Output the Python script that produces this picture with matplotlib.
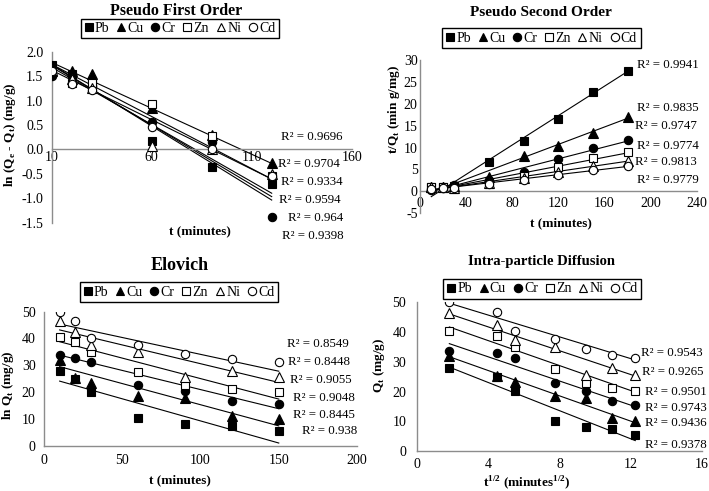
import matplotlib
matplotlib.use("Agg")
import matplotlib.pyplot as plt
from matplotlib.lines import Line2D
import numpy as np

plt.rcParams['font.family'] = ['Liberation Serif', 'DejaVu Serif']
plt.rcParams['mathtext.fontset'] = 'custom'
plt.rcParams['mathtext.rm'] = 'Liberation Serif'
plt.rcParams['mathtext.bf'] = 'Liberation Serif:bold'
plt.rcParams['axes.unicode_minus'] = False

W, H = 709, 491

metals = ["Pb", "Cu", "Cr", "Zn", "Ni", "Cd"]
markers = ["s", "^", "o", "s", "^", "o"]
filled = [True, True, True, False, False, False]

# ---- Pseudo first order ----
pfo_t = [10, 20, 30, 60, 90, 120]
pfo_Pb = [1.72, 1.55, 1.35, 0.17, -0.37, -0.71]
pfo_Cu = [1.60, 1.60, 1.55, 0.85, 0.30, -0.28]
pfo_Cr = [1.50, 1.50, 1.30, 0.55, 0.15, -1.38]
pfo_Zn = [1.60, 1.35, 1.35, 0.93, 0.27, -0.55]
pfo_Ni = [1.62, 1.45, 1.25, 0.07, 0.00, -0.50]
pfo_Cd = [1.60, 1.33, 1.22, 0.45, 0.00, -0.55]
pfo_fit_t = [10, 120]
pfo_fit_start = [1.72, 1.78, 1.74, 1.74, 1.68, 1.62]
pfo_fit_end = [-0.97, -0.29, -1.04, -0.61, -0.90, -0.61]
pfo_r2 = ["0.9696", "0.9704", "0.9334", "0.9594", "0.964", "0.9398"]

# ---- Pseudo second order ----
pso_t = [10, 20, 30, 60, 90, 120, 150, 180]
pso_Pb = [1.0, 1.0, 1.3, 6.7, 11.4, 16.6, 22.6, 27.4]
pso_Cu = [0.9, 0.9, 1.2, 3.2, 8.1, 10.3, 13.3, 17.0]
pso_Cr = [0.3, 0.8, 1.4, 2.6, 4.5, 7.3, 9.8, 11.7]
pso_Zn = [0.9, 0.9, 0.6, 1.6, 3.5, 5.6, 7.7, 9.1]
pso_Ni = [0.9, 0.9, 0.8, 1.9, 3.0, 4.4, 5.9, 7.0]
pso_Cd = [0.5, 0.8, 0.7, 1.6, 2.6, 3.8, 4.9, 5.8]
pso_fit_t = [10, 180]
pso_fit_start = [-1.2, -0.2, 0.0, 0.2, 0.3, 0.4]
pso_fit_end = [27.4, 16.7, 11.5, 8.8, 6.9, 5.7]
pso_r2 = ["0.9941", "0.9835", "0.9747", "0.9774", "0.9813", "0.9779"]

# ---- Elovich / intra-particle: Qt values ----
el_t = [10, 20, 30, 60, 90, 120, 150]
ip_x = [1.8, 4.47, 5.48, 7.75, 9.49, 10.95, 12.25]
qt_Pb = [27.8, 25.0, 20.2, 10.2, 8.2, 7.3, 5.4]
qt_Cu = [32.0, 25.2, 23.3, 18.6, 17.7, 11.2, 10.1]
qt_Cr = [33.7, 32.9, 31.2, 22.8, 20.3, 16.8, 15.5]
qt_Zn = [40.4, 38.7, 35.1, 27.6, 22.8, 21.3, 20.2]
qt_Ni = [46.4, 42.4, 37.4, 35.1, 25.6, 27.8, 25.6]
qt_Cd = [50.0, 46.7, 40.2, 37.6, 34.3, 32.3, 31.2]

el_fit_t = [10, 150]
el_fit_start = [24.1, 29.5, 33.8, 38.8, 43.2, 45.4]
el_fit_end = [1.0, 7.4, 13.8, 17.4, 23.6, 27.8]
el_r2 = ["0.8549", "0.8448", "0.9055", "0.9048", "0.8445", "0.938"]

ip_fit_x = [1.8, 12.25]
ip_fit_start = [28.2, 31.7, 36.1, 41.7, 46.1, 49.7]
ip_fit_end = [3.5, 9.5, 14.9, 19.8, 25.2, 30.6]
ip_r2 = ["0.9543", "0.9265", "0.9501", "0.9743", "0.9436", "0.9378"]

fig = plt.figure(figsize=(W / 100, H / 100), dpi=100)


def px_axes(l, t, r, b):
    return fig.add_axes([l / W, 1 - b / H, (r - l) / W, (b - t) / H])


def ftext(x, y, s, **kw):
    fig.text(x / W, 1 - y / H, s, **kw)


SPINE = "#8c8c8c"
FS = 10
LFS = 9.5
RFS = 9.3


def style(ax, xlim, ylim, xticks, yticks, yfmt=None, pad=3, ypad=4):
    ax.set_xlim(*xlim)
    ax.set_ylim(*ylim)
    for s in ["top", "right"]:
        ax.spines[s].set_visible(False)
    ax.spines["left"].set_color(SPINE)
    ax.spines["bottom"].set_color(SPINE)
    ax.spines["left"].set_linewidth(1.0)
    ax.spines["bottom"].set_linewidth(1.0)
    ax.spines["bottom"].set_position(("data", 0))
    ax.set_xticks(xticks)
    ax.set_yticks(yticks)
    if yfmt:
        ax.set_yticklabels([yfmt % v for v in yticks])
    ax.tick_params(length=0, labelsize=FS, colors="black")
    ax.tick_params(axis="x", pad=pad)
    ax.tick_params(axis="y", pad=ypad)
    ax.patch.set_alpha(0)


def draw_series(ax, x, ys, fx, fs, fe):
    for i, y in enumerate(ys):
        ax.plot(fx, [fs[i], fe[i]], color="black", lw=0.8, zorder=2)
    for i, y in enumerate(ys):
        fc = "black" if filled[i] else "white"
        ax.plot(x, y, ls="none", marker=markers[i], ms=6.5 if markers[i] == "^" else 6,
                mfc=fc, mec="black", mew=0.8, zorder=3)


def legend(ax, cx, cy):
    handles = []
    for i, m in enumerate(metals):
        fc = "black" if filled[i] else "white"
        handles.append(Line2D([], [], ls="none", marker=markers[i], ms=6,
                              mfc=fc, mec="black", mew=0.8))
    lg = fig.legend(handles, metals, loc="center", bbox_to_anchor=(cx / W, 1 - cy / H),
                    ncol=6, fontsize=FS, handlelength=0.6, handletextpad=0.15,
                    columnspacing=0.55, borderpad=0.25, fancybox=False,
                    edgecolor="black", framealpha=1)
    lg.get_frame().set_linewidth(1.0)


# ---------- Panel 1: PFO ----------
ax1 = px_axes(51.7, 51.7, 351.7, 222.5)
style(ax1, (10, 160), (-1.5, 2.0), [10, 60, 110, 160], [-1.5, -1.0, -0.5, 0.0, 0.5, 1.0, 1.5, 2.0],
      yfmt="%.1f", pad=1.5, ypad=6)
draw_series(ax1, pfo_t, [pfo_Pb, pfo_Cu, pfo_Cr, pfo_Zn, pfo_Ni, pfo_Cd],
            pfo_fit_t, pfo_fit_start, pfo_fit_end)
ftext(176, 11, "Pseudo First Order", fontsize=11.5, fontweight="bold", ha="center", va="center")
legend(ax1, 180, 28.5)
ftext(200, 231, "t (minutes)", fontsize=LFS, fontweight="bold", ha="center", va="center")
ftext(10, 135, r"ln (Q$_\mathbf{e}$ - Q$_\mathbf{t}$) (mg/g)", fontsize=LFS, fontweight="bold",
      ha="center", va="center", rotation=90)
pfo_r2_pos = [(281, 137), (278, 164), (281, 182), (279, 200), (288, 218), (282, 236)]
for (x, y), r in zip(pfo_r2_pos, pfo_r2):
    ftext(x, y, "R² = " + r, fontsize=RFS, ha="left", va="center")

# ---------- Panel 2: PSO ----------
ax2 = px_axes(419.7, 60, 697, 213.3)
style(ax2, (0, 240), (-5, 30), [0, 40, 80, 120, 160, 200, 240], [-5, 0, 5, 10, 15, 20, 25, 30],
      pad=4, ypad=1.5)
draw_series(ax2, pso_t, [pso_Pb, pso_Cu, pso_Cr, pso_Zn, pso_Ni, pso_Cd],
            pso_fit_t, pso_fit_start, pso_fit_end)
ftext(541, 13, "Pseudo Second Order", fontsize=11, fontweight="bold", ha="center", va="center")
legend(ax2, 541.5, 38)
ftext(561, 223, "t (minutes)", fontsize=LFS, fontweight="bold", ha="center", va="center")
ftext(394, 110, r"t/Q$_\mathbf{t}$ (min g/mg)", fontsize=LFS, fontweight="bold",
      ha="center", va="center", rotation=90)
pso_r2_pos = [(637, 65), (637, 108), (635, 126), (637, 146), (635, 162), (637, 180)]
for (x, y), r in zip(pso_r2_pos, pso_r2):
    ftext(x, y, "R² = " + r, fontsize=RFS, ha="left", va="center")

# ---------- Panel 3: Elovich ----------
ax3 = px_axes(44, 311.7, 357, 445.7)
style(ax3, (0, 200), (0, 50), [0, 50, 100, 150, 200], [0, 10, 20, 30, 40, 50], pad=6, ypad=6)
draw_series(ax3, el_t, [qt_Pb, qt_Cu, qt_Cr, qt_Zn, qt_Ni, qt_Cd],
            el_fit_t, el_fit_start, el_fit_end)
ftext(180, 265, "Elovich", fontsize=13, fontweight="bold", ha="center", va="center")
legend(ax3, 179, 292)
ftext(180, 480, "t (minutes)", fontsize=LFS, fontweight="bold", ha="center", va="center")
ftext(8, 385, r"ln Q$_\mathbf{t}$ (mg/g)", fontsize=LFS, fontweight="bold",
      ha="center", va="center", rotation=90)
el_r2_pos = [(287, 344), (288, 362), (290, 380), (293, 398), (293, 415), (302, 431)]
for (x, y), r in zip(el_r2_pos, el_r2):
    ftext(x, y, "R² = " + r, fontsize=RFS, ha="left", va="center")

# ---------- Panel 4: Intra-particle ----------
ax4 = px_axes(417.3, 302.3, 702, 451)
style(ax4, (0, 16), (0, 50), [0, 4, 8, 12, 16], [0, 10, 20, 30, 40, 50], pad=5, ypad=8)
draw_series(ax4, ip_x, [qt_Pb, qt_Cu, qt_Cr, qt_Zn, qt_Ni, qt_Cd],
            ip_fit_x, ip_fit_start, ip_fit_end)
ftext(541, 262, "Intra-particle Diffusion", fontsize=10.5, fontweight="bold", ha="center", va="center")
legend(ax4, 542.3, 289)
ftext(527, 483, r"t$^\mathbf{1/2}$ (minutes$^\mathbf{1/2}$)", fontsize=LFS, fontweight="bold",
      ha="center", va="center")
ftext(379, 365, r"Q$_\mathbf{t}$ (mg/g)", fontsize=LFS, fontweight="bold",
      ha="center", va="center", rotation=90)
ip_r2_pos = [(641, 353), (642, 372), (645, 392), (645, 408), (645, 423), (645, 445)]
for (x, y), r in zip(ip_r2_pos, ip_r2):
    ftext(x, y, "R² = " + r, fontsize=RFS, ha="left", va="center")

fig.savefig("out.png", dpi=100)
